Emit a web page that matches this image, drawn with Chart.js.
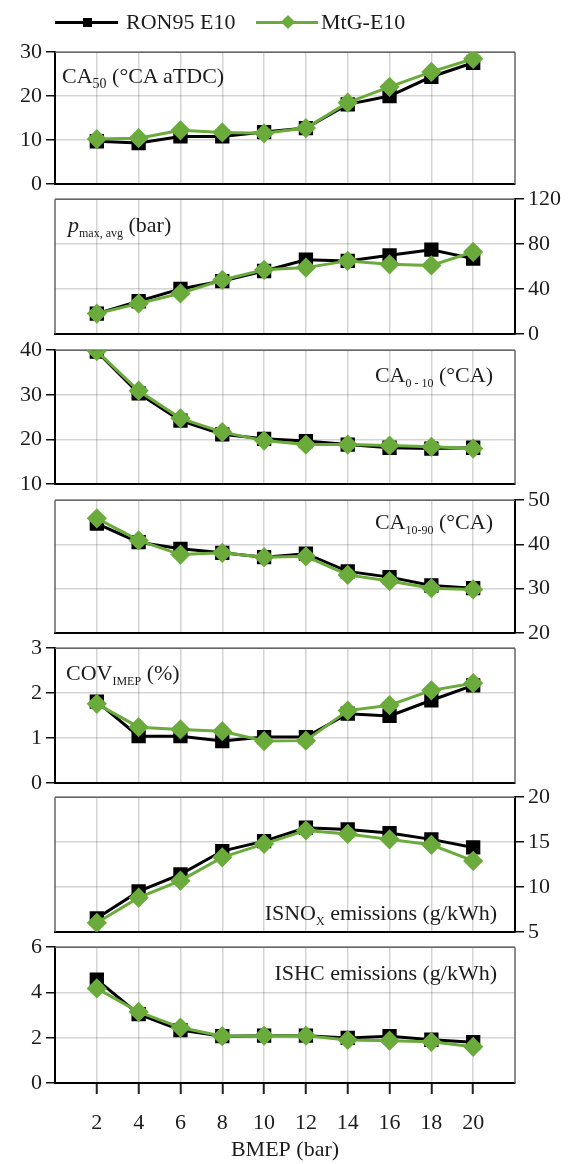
<!DOCTYPE html>
<html>
<head>
<meta charset="utf-8">
<script src="https://cdn.jsdelivr.net/npm/chart.js@4.4.0/dist/chart.umd.min.js"></script>
<style>
    body { margin: 0; background: #fff; }
    #wrap { position: relative; width: 574px; height: 1164px; overflow: hidden;
            font-family: "Liberation Serif", "Times New Roman", serif; color: #1c1c1c; }
    canvas { position: absolute; left: 0; }
    .lbl { position: absolute; font-size: 22px; line-height: 26px; white-space: nowrap; }
    .lbl sub { font-size: 14px; vertical-align: -5px; line-height: 0; }
    .lbl sub.sm { font-size: 12px; }
    .leg-line { position: absolute; height: 3px; }
    .leg-mark { position: absolute; }
</style>
</head>
<body>
<div id="wrap">
    <!-- legend -->
    <div class="leg-line" style="left:55px;top:21px;width:63px;background:#000;"></div>
    <div class="leg-mark" style="left:83px;top:18px;width:9px;height:9px;background:#000;"></div>
    <div class="lbl" style="left:126px;top:9px;">RON95 E10</div>
    <div class="leg-line" style="left:256px;top:21px;width:62px;background:#6aab3c;"></div>
    <div class="leg-mark" style="left:283px;top:17px;width:10px;height:10px;background:#6aab3c;transform:rotate(45deg);"></div>
    <div class="lbl" style="left:321px;top:9px;">MtG-E10</div>

    <!-- panel titles -->
    <div class="lbl" style="left:62px;top:63px;">CA<sub>50</sub> (°CA aTDC)</div>
    <div class="lbl" style="left:68px;top:212px;"><i>p</i><sub class="sm">max, avg</sub> (bar)</div>
    <div class="lbl" style="right:81px;top:362px;">CA<sub class="sm">0 - 10</sub> (°CA)</div>
    <div class="lbl" style="right:81px;top:509px;">CA<sub class="sm">10-90</sub> (°CA)</div>
    <div class="lbl" style="left:66px;top:660px;">COV<sub class="sm">IMEP</sub> (%)</div>
    <div class="lbl" style="right:77px;top:900px;">ISNO<sub class="sm">X</sub> emissions (g/kWh)</div>
    <div class="lbl" style="right:77px;top:960px;">ISHC emissions (g/kWh)</div>
</div>

<script>
// BMEP (bar) on the shared x axis
const bmep = [2, 4, 6, 8, 10, 12, 14, 16, 18, 20];

// CA50 (°CA aTDC)
const ca50Ron = [9.7, 9.3, 10.8, 10.8, 11.8, 12.7, 18.1, 20.0, 24.4, 27.6];
const ca50Mtg = [10.2, 10.4, 12.2, 11.7, 11.5, 12.7, 18.5, 22.1, 25.5, 28.5];

// p max, avg (bar)
const pmaxRon = [18, 29, 40, 47, 56, 66, 65, 70, 75, 67];
const pmaxMtg = [18, 27, 36, 48, 57, 59, 65, 62, 61, 73];

// CA0-10 (°CA)
const ca010Ron = [39.7, 30.3, 24.2, 21.1, 20.1, 19.6, 18.8, 18.1, 17.9, 18.1];
const ca010Mtg = [39.8, 30.9, 24.7, 21.6, 19.7, 18.8, 18.8, 18.6, 18.3, 17.9];

// CA10-90 (°CA)
const ca1090Ron = [44.7, 40.5, 39.0, 38.1, 37.1, 37.9, 33.9, 32.6, 30.7, 30.1];
const ca1090Mtg = [45.9, 40.9, 37.7, 38.1, 37.1, 37.3, 33.1, 31.7, 30.1, 29.8];

// COV IMEP (%)
const covRon = [1.81, 1.04, 1.04, 0.93, 1.02, 1.02, 1.54, 1.49, 1.84, 2.17];
const covMtg = [1.76, 1.24, 1.19, 1.15, 0.93, 0.94, 1.61, 1.73, 2.06, 2.22];

// ISNOx emissions (g/kWh)
const noxRon = [6.5, 9.5, 11.4, 14.0, 15.1, 16.6, 16.4, 16.0, 15.3, 14.4];
const noxMtg = [6.0, 8.8, 10.7, 13.3, 14.8, 16.3, 15.9, 15.3, 14.7, 12.9];

// ISHC emissions (g/kWh)
const hcRon = [4.57, 3.04, 2.34, 2.07, 2.09, 2.09, 1.99, 2.07, 1.91, 1.80];
const hcMtg = [4.18, 3.14, 2.45, 2.07, 2.09, 2.09, 1.90, 1.87, 1.82, 1.60];

// y tick labels per panel
const yTicks = [
    [0, 10, 20, 30],
    [0, 40, 80, 120],
    [10, 20, 30, 40],
    [20, 30, 40, 50],
    [0, 1, 2, 3],
    [5, 10, 15, 20],
    [0, 2, 4, 6]
];

const seriesRon = [ca50Ron, pmaxRon, ca010Ron, ca1090Ron, covRon, noxRon, hcRon];
const seriesMtg = [ca50Mtg, pmaxMtg, ca010Mtg, ca1090Mtg, covMtg, noxMtg, hcMtg];

// panel boxes (page pixels) and which side the value axis sits on
const panelTops    = [51, 198, 349, 499, 647, 796, 946];
const panelBottoms = [185, 335, 485, 634, 784, 933, 1083];
const axisSides    = ['left', 'right', 'left', 'right', 'left', 'right', 'left'];

const PLOT_LEFT = 55, PLOT_RIGHT = 515, PAGE_W = 574, PAGE_H = 1164;
const GREEN = '#6aab3c';
const TEXT = '#1c1c1c';
const GRID = 'rgba(0, 0, 0, 0.17)';
const font = { family: "'Liberation Serif', 'Times New Roman', serif", size: 22 };

// thin grey frame on the top and on the side without an axis
const framePlugin = {
    id: 'frame',
    beforeDatasetsDraw(chart, args, opts) {
        const { ctx, chartArea: a } = chart;
        ctx.save();
        ctx.strokeStyle = '#666';
        ctx.lineWidth = 1.5;
        ctx.beginPath();
        ctx.moveTo(a.left, a.top);
        ctx.lineTo(a.right, a.top);
        if (opts.side === 'left') {
            ctx.moveTo(a.right, a.top);
            ctx.lineTo(a.right, a.bottom);
        } else {
            ctx.moveTo(a.left, a.top);
            ctx.lineTo(a.left, a.bottom);
        }
        ctx.stroke();
        ctx.restore();
    }
};

const wrap = document.getElementById('wrap');

yTicks.forEach((ticks, i) => {
    const last = i === yTicks.length - 1;
    const side = axisSides[i];
    const padTop = 16;
    const padBottom = last ? 0 : 16;
    const xAxisH = last ? PAGE_H - panelBottoms[i] : 0;
    const top = panelTops[i] - padTop;
    const height = panelBottoms[i] - panelTops[i] + padTop + padBottom + xAxisH;

    const canvas = document.createElement('canvas');
    canvas.width = PAGE_W;
    canvas.height = height;
    canvas.style.top = top + 'px';
    canvas.style.width = PAGE_W + 'px';
    canvas.style.height = height + 'px';
    wrap.insertBefore(canvas, wrap.firstChild);

    new Chart(canvas.getContext('2d'), {
        type: 'line',
        data: {
            datasets: [
                {
                    label: 'RON95 E10',
                    data: bmep.map((x, k) => ({ x, y: seriesRon[i][k] })),
                    borderColor: '#000',
                    backgroundColor: '#000',
                    borderWidth: 3,
                    pointStyle: 'rect',
                    pointRadius: 8,
                    order: 2
                },
                {
                    label: 'MtG-E10',
                    data: bmep.map((x, k) => ({ x, y: seriesMtg[i][k] })),
                    borderColor: GREEN,
                    backgroundColor: GREEN,
                    borderWidth: 3,
                    pointStyle: 'rectRot',
                    pointRadius: 8,
                    order: 1
                }
            ]
        },
        options: {
            responsive: false,
            animation: false,
            layout: {
                padding: {
                    top: padTop,
                    bottom: padBottom,
                    left: side === 'left' ? 0 : PLOT_LEFT,
                    right: side === 'left' ? PAGE_W - PLOT_RIGHT : 0
                }
            },
            plugins: {
                legend: { display: false },
                tooltip: { enabled: false },
                frame: { side }
            },
            scales: {
                x: {
                    type: 'linear',
                    min: 0,
                    max: 22,
                    afterBuildTicks: s => { s.ticks = bmep.map(v => ({ value: v })); },
                    afterFit: s => { s.height = xAxisH; },
                    grid: {
                        color: GRID,
                        lineWidth: 1.5,
                        drawTicks: last,
                        tickLength: 11,
                        tickColor: '#222',
                        tickWidth: 2
                    },
                    border: { color: '#000', width: 2 },
                    ticks: { display: last, padding: 16, font, color: TEXT, maxRotation: 0 },
                    title: {
                        display: last,
                        text: 'BMEP (bar)',
                        font,
                        color: TEXT,
                        padding: { top: 0, bottom: 1 }
                    }
                },
                y: {
                    position: side,
                    min: ticks[0],
                    max: ticks[ticks.length - 1],
                    afterBuildTicks: s => { s.ticks = ticks.map(v => ({ value: v })); },
                    afterFit: s => { s.width = side === 'left' ? PLOT_LEFT : PAGE_W - PLOT_RIGHT; },
                    grid: {
                        color: GRID,
                        lineWidth: 1.5,
                        tickLength: 9,
                        tickColor: '#111',
                        tickWidth: 1.5
                    },
                    border: { color: '#000', width: 2 },
                    ticks: { padding: 4, font, color: TEXT }
                }
            }
        },
        plugins: [framePlugin]
    });
});
</script>
</body>
</html>
